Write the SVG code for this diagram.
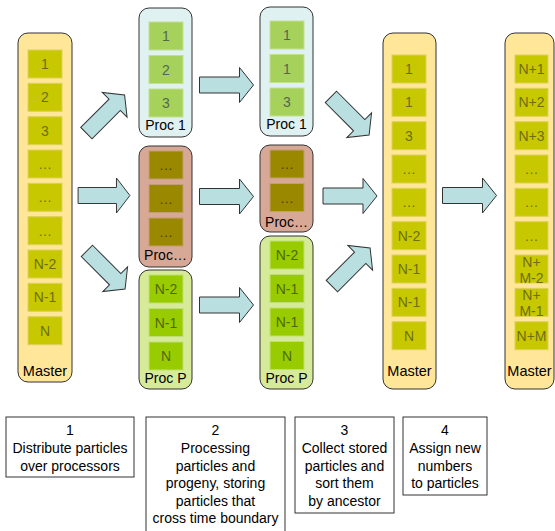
<svg xmlns="http://www.w3.org/2000/svg" width="555" height="531" viewBox="0 0 555 531">
<style>
text{font-family:"Liberation Sans",Arial,sans-serif;font-size:14px;text-anchor:middle}
.master{fill:#FFE699;stroke:#333;stroke-width:1}
.p1{fill:#E0F1F2;stroke:#333;stroke-width:1}
.pd{fill:#D8A897;stroke:#333;stroke-width:1}
.pp{fill:#D6EA99;stroke:#333;stroke-width:1}
.cm{fill:#C8C800;stroke:#DCD25A;stroke-width:1}
.c1{fill:#A6D15A;stroke:#C4E08E;stroke-width:1}
.cd{fill:#9A8800;stroke:#C0A070;stroke-width:1}
.cp{fill:#99CC00;stroke:#BEE070;stroke-width:1}
.tm{fill:#6E6E10}
.t1{fill:#55674F}
.td{fill:#4A4000}
.tp{fill:#4E6800}
.lbl{fill:#000}
.arrow{fill:#B9DFE1;stroke:#333;stroke-width:1}
.cap{fill:#fff;stroke:#333;stroke-width:1}
</style>
<defs>
<path id="arr" d="M-27,-8 H13 V-17.5 L27,0 L13,17.5 V8 H-27 Z"/>
</defs>

<g id="master1">
<rect class="master" x="18" y="33" width="54" height="349" rx="10"/>
<rect class="cm" x="28" y="50" width="34" height="28"/>
<rect class="cm" x="28" y="83.3" width="34" height="28"/>
<rect class="cm" x="28" y="116.7" width="34" height="28"/>
<rect class="cm" x="28" y="150" width="34" height="28"/>
<rect class="cm" x="28" y="183.3" width="34" height="28"/>
<rect class="cm" x="28" y="216.7" width="34" height="28"/>
<rect class="cm" x="28" y="250" width="34" height="28"/>
<rect class="cm" x="28" y="283.3" width="34" height="28"/>
<rect class="cm" x="28" y="316.7" width="34" height="28"/>
<text class="tm" x="45" y="69">1</text>
<text class="tm" x="45" y="102.3">2</text>
<text class="tm" x="45" y="135.7">3</text>
<text class="tm" x="45" y="169">…</text>
<text class="tm" x="45" y="202.3">…</text>
<text class="tm" x="45" y="235.7">…</text>
<text class="tm" x="45" y="269">N-2</text>
<text class="tm" x="45" y="302.3">N-1</text>
<text class="tm" x="45" y="335.7">N</text>
<text class="lbl" x="45" y="376" style="font-size:14.5px">Master</text>
</g>

<g id="proc1a">
<rect class="p1" x="139" y="8" width="53" height="129" rx="10"/>
<rect class="c1" x="149" y="22" width="34" height="28"/>
<rect class="c1" x="149" y="55.5" width="34" height="28"/>
<rect class="c1" x="149" y="89" width="34" height="28"/>
<text class="t1" x="166" y="41">1</text>
<text class="t1" x="166" y="74.5">2</text>
<text class="t1" x="166" y="108">3</text>
<text class="lbl" x="165.5" y="130">Proc 1</text>
</g>

<g id="procDa">
<rect class="pd" x="139" y="146" width="53" height="121" rx="10"/>
<rect class="cd" x="149" y="151" width="34" height="28"/>
<rect class="cd" x="149" y="184.5" width="34" height="28"/>
<rect class="cd" x="149" y="218" width="34" height="28"/>
<text class="td" x="166" y="170">…</text>
<text class="td" x="166" y="203.5">…</text>
<text class="td" x="166" y="237">…</text>
<text class="lbl" x="165.5" y="260">Proc…</text>
</g>

<g id="procPa">
<rect class="pp" x="139" y="270" width="53" height="119" rx="10"/>
<rect class="cp" x="149" y="275" width="34" height="28"/>
<rect class="cp" x="149" y="308.5" width="34" height="28"/>
<rect class="cp" x="149" y="342" width="34" height="28"/>
<text class="tp" x="166" y="294">N-2</text>
<text class="tp" x="166" y="327.5">N-1</text>
<text class="tp" x="166" y="361">N</text>
<text class="lbl" x="165.5" y="383">Proc P</text>
</g>

<g id="proc1b">
<rect class="p1" x="260" y="7" width="53" height="129" rx="10"/>
<rect class="c1" x="270" y="21" width="34" height="28"/>
<rect class="c1" x="270" y="54.5" width="34" height="28"/>
<rect class="c1" x="270" y="88" width="34" height="28"/>
<text class="t1" x="287" y="40">1</text>
<text class="t1" x="287" y="73.5">1</text>
<text class="t1" x="287" y="107">3</text>
<text class="lbl" x="286.5" y="129">Proc 1</text>
</g>

<g id="procDb">
<rect class="pd" x="260" y="145" width="53" height="87" rx="10"/>
<rect class="cd" x="270" y="150" width="34" height="28"/>
<rect class="cd" x="270" y="183.5" width="34" height="28"/>
<text class="td" x="287" y="169">…</text>
<text class="td" x="287" y="202.5">…</text>
<text class="lbl" x="286.5" y="227">Proc…</text>
</g>

<g id="procPb">
<rect class="pp" x="260" y="236" width="53" height="153" rx="10"/>
<rect class="cp" x="270" y="241" width="34" height="28"/>
<rect class="cp" x="270" y="274.5" width="34" height="28"/>
<rect class="cp" x="270" y="308" width="34" height="28"/>
<rect class="cp" x="270" y="341.5" width="34" height="28"/>
<text class="tp" x="287" y="260">N-2</text>
<text class="tp" x="287" y="293.5">N-1</text>
<text class="tp" x="287" y="327">N-1</text>
<text class="tp" x="287" y="360.5">N</text>
<text class="lbl" x="286.5" y="383">Proc P</text>
</g>

<g id="master3">
<rect class="master" x="383" y="33" width="53" height="356" rx="10"/>
<rect class="cm" x="392" y="55" width="34" height="28"/>
<rect class="cm" x="392" y="88.3" width="34" height="28"/>
<rect class="cm" x="392" y="121.7" width="34" height="28"/>
<rect class="cm" x="392" y="155" width="34" height="28"/>
<rect class="cm" x="392" y="188.3" width="34" height="28"/>
<rect class="cm" x="392" y="221.7" width="34" height="28"/>
<rect class="cm" x="392" y="255" width="34" height="28"/>
<rect class="cm" x="392" y="288.3" width="34" height="28"/>
<rect class="cm" x="392" y="321.7" width="34" height="28"/>
<text class="tm" x="409" y="74">1</text>
<text class="tm" x="409" y="107.3">1</text>
<text class="tm" x="409" y="140.7">3</text>
<text class="tm" x="409" y="174">…</text>
<text class="tm" x="409" y="207.3">…</text>
<text class="tm" x="409" y="240.7">N-2</text>
<text class="tm" x="409" y="274">N-1</text>
<text class="tm" x="409" y="307.3">N-1</text>
<text class="tm" x="409" y="340.7">N</text>
<text class="lbl" x="409.5" y="376" style="font-size:14.5px">Master</text>
</g>

<g id="master4">
<rect class="master" x="505" y="33" width="49" height="356" rx="10"/>
<rect class="cm" x="515" y="55" width="33" height="28"/>
<rect class="cm" x="515" y="88.3" width="33" height="28"/>
<rect class="cm" x="515" y="121.7" width="33" height="28"/>
<rect class="cm" x="515" y="155" width="33" height="28"/>
<rect class="cm" x="515" y="188.3" width="33" height="28"/>
<rect class="cm" x="515" y="221.7" width="33" height="28"/>
<rect class="cm" x="515" y="255" width="33" height="28"/>
<rect class="cm" x="515" y="288.3" width="33" height="28"/>
<rect class="cm" x="515" y="321.7" width="33" height="28"/>
<text class="tm" x="531.5" y="74">N+1</text>
<text class="tm" x="531.5" y="107.3">N+2</text>
<text class="tm" x="531.5" y="140.7">N+3</text>
<text class="tm" x="531.5" y="174">…</text>
<text class="tm" x="531.5" y="207.3">…</text>
<text class="tm" x="531.5" y="240.7">…</text>
<text class="tm" x="531.5" y="267">N+</text>
<text class="tm" x="531.5" y="283">M-2</text>
<text class="tm" x="531.5" y="300.3">N+</text>
<text class="tm" x="531.5" y="316.3">M-1</text>
<text class="tm" x="531.5" y="340.7">N+M</text>
<text class="lbl" x="529.5" y="376" style="font-size:14.5px">Master</text>
</g>

<g id="connectors">
<use href="#arr" class="arrow" transform="translate(105.5,114) rotate(-45)"/>
<use href="#arr" class="arrow" transform="translate(104,195.5) scale(0.96,1)"/>
<use href="#arr" class="arrow" transform="translate(106,270) rotate(45)"/>
<use href="#arr" class="arrow" transform="translate(226.5,85)"/>
<use href="#arr" class="arrow" transform="translate(226.5,196.5)"/>
<use href="#arr" class="arrow" transform="translate(226.5,305)"/>
<use href="#arr" class="arrow" transform="translate(350,116) rotate(45)"/>
<use href="#arr" class="arrow" transform="translate(350,196)"/>
<use href="#arr" class="arrow" transform="translate(351,267) rotate(-45)"/>
<use href="#arr" class="arrow" transform="translate(469.5,195.5)"/>
</g>

<g id="caption1">
<rect class="cap" x="6" y="417" width="128" height="60"/>
<text x="70" y="435">1</text>
<text x="70" y="453">Distribute particles</text>
<text x="70" y="470.5">over processors</text>
</g>
<g id="caption2">
<rect class="cap" x="146" y="417" width="139" height="120"/>
<text x="215.5" y="435">2</text>
<text x="215.5" y="453">Processing</text>
<text x="215.5" y="470.5">particles and</text>
<text x="215.5" y="488">progeny, storing</text>
<text x="215.5" y="505.5">particles that</text>
<text x="215.5" y="523">cross time boundary</text>
</g>
<g id="caption3">
<rect class="cap" x="295" y="417" width="99" height="96"/>
<text x="344.5" y="435">3</text>
<text x="344.5" y="453">Collect stored</text>
<text x="344.5" y="470.5">particles and</text>
<text x="344.5" y="488">sort them</text>
<text x="344.5" y="505.5">by ancestor</text>
</g>
<g id="caption4">
<rect class="cap" x="403" y="417" width="84" height="78"/>
<text x="445" y="435">4</text>
<text x="445" y="453">Assign new</text>
<text x="445" y="470.5">numbers</text>
<text x="445" y="488">to particles</text>
</g>
</svg>
